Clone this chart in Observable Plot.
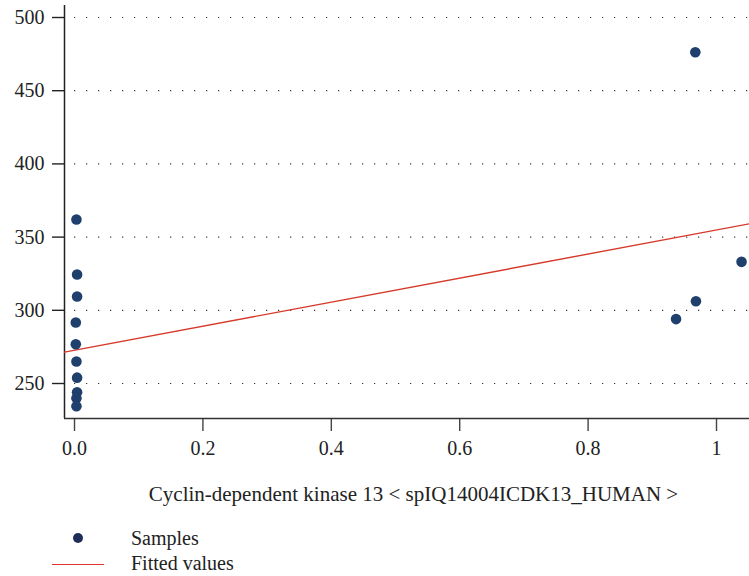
<!DOCTYPE html>
<html>
<head>
<meta charset="utf-8">
<script src="https://cdn.jsdelivr.net/npm/d3@7"></script>
<script src="https://cdn.jsdelivr.net/npm/@observablehq/plot@0.6"></script>
<style>
  body { margin: 0; background: #fff; }
  #wrap { position: relative; width: 749px; height: 576px; font-family: 'Liberation Serif', serif; color: #222; }
  #chart { position: absolute; left: 0; top: 0; }
  .abs { position: absolute; white-space: nowrap; font-family: 'Liberation Serif', serif; font-size: 20px; line-height: 24px; }
  #xlabel { left: 0; width: 827px; text-align: center; top: 482px; font-size: 21px; }
  .dot { position: absolute; width: 10px; height: 10px; border-radius: 50%; background: #1f2d58; left: 73px; top: 533px; }
  .fit { position: absolute; left: 52px; width: 52px; top: 564px; height: 0; border-top: 1.4px solid #e0342a; }
  #lab1 { left: 131px; top: 526px; }
  #lab2 { left: 131px; top: 551px; }
</style>
</head>
<body>
<div id="wrap">
  <div id="chart"></div>
  <div class="abs" id="xlabel"></div>
  <div class="dot"></div>
  <div class="fit"></div>
  <div class="abs" id="lab1"></div>
  <div class="abs" id="lab2"></div>
</div>
<script>
// Samples
const sampleX = [0.003, 0.004, 0.004, 0.002, 0.002, 0.003, 0.004, 0.004, 0.003, 0.003, 0.967, 1.039, 0.968, 0.937];
const sampleY = [362, 324.5, 309.4, 291.7, 276.8, 265, 254, 244, 240, 234.5, 476.3, 333.1, 306.2, 294];

// Fitted values line (at the plot's left and right edges)
const fitX = [-0.0156, 1.0514];
const fitY = [271.4, 359.1];

// Axes
const xTicks = [0, 0.2, 0.4, 0.6, 0.8, 1];
const xTickLabels = ["0.0", "0.2", "0.4", "0.6", "0.8", "1"];
const yTicks = [250, 300, 350, 400, 450, 500];
const yTickLabels = ["250", "300", "350", "400", "450", "500"];
const xDomain = [-0.0156, 1.0514];
const yDomain = [226.1, 508.2];

const xLabel = "Cyclin-dependent kinase 13 < spIQ14004ICDK13_HUMAN >";
const legendLabels = ["Samples", "Fitted values"];

const samples = sampleX.map((x, i) => ({x, y: sampleY[i]}));
const fit = fitX.map((x, i) => ({x, y: fitY[i]}));

const chart = Plot.plot({
  width: 749,
  height: 470,
  marginLeft: 64,
  marginRight: 0,
  marginTop: 5,
  marginBottom: 52,
  style: { fontFamily: "'Liberation Serif', serif", fontSize: "20px", color: "#222", background: "#fff" },
  x: { domain: xDomain },
  y: { domain: yDomain },
  marks: [
    Plot.ruleY(yTicks, { x1: 0, x2: xDomain[1], stroke: "#333", strokeWidth: 1.2, strokeDasharray: "1.2,10.8" }),
    Plot.axisY({ ticks: yTicks, tickSize: 12, tickPadding: 8, stroke: "#222", strokeWidth: 1.4, label: null,
                 tickFormat: d => yTickLabels[yTicks.indexOf(d)] }),
    Plot.axisX({ ticks: xTicks, tickSize: 13, tickPadding: 9, stroke: "#444", strokeWidth: 1.4, label: null,
                 tickFormat: d => xTickLabels[xTicks.indexOf(d)] }),
    Plot.ruleX([xDomain[0]], { stroke: "#222", strokeWidth: 1.5 }),
    Plot.ruleY([yDomain[0]], { stroke: "#333", strokeWidth: 1.5 }),
    Plot.line(fit, { x: "x", y: "y", stroke: "#d63a2a", strokeWidth: 1.4 }),
    Plot.dot(samples, { x: "x", y: "y", r: 5.3, fill: "#1f3f6d", stroke: "none" })
  ]
});
chart.setAttribute("font-family", "'Liberation Serif', serif");
document.getElementById("chart").appendChild(chart);
document.getElementById("xlabel").textContent = xLabel;
document.getElementById("lab1").textContent = legendLabels[0];
document.getElementById("lab2").textContent = legendLabels[1];
</script>
</body>
</html>
